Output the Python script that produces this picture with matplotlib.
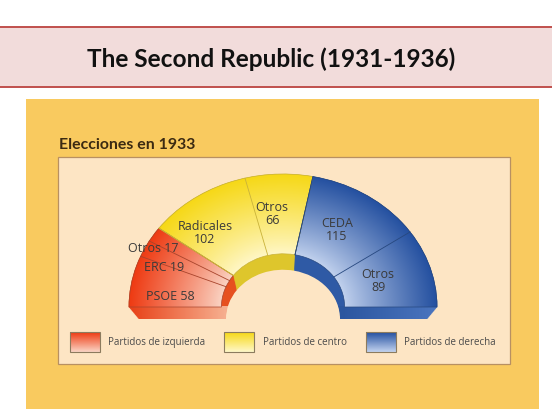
import numpy as np
import matplotlib
matplotlib.use("Agg")
import matplotlib.pyplot as plt
from matplotlib.patches import Rectangle, Wedge
from matplotlib.transforms import Affine2D
from matplotlib.colors import to_rgb

# ---------------- data ----------------
title = "The Second Republic (1931-1936)"
subtitle = "Elecciones en 1933"
parties = ["PSOE", "ERC", "Otros", "Radicales", "Otros", "CEDA", "Otros"]
seats = [58, 19, 17, 102, 66, 115, 89]
party_group = [0, 0, 0, 1, 1, 2, 2]
group_names = ["Partidos de izquierda", "Partidos de centro", "Partidos de derecha"]

# ---------------- style ----------------
grp_outer = ["#EE3A12", "#F6D816", "#2450A0"]
grp_inner = ["#FAD4C4", "#FFF7C8", "#C2D2EE"]
grp_side = ["#E6501F", "#DEC62C", "#2F5AA5"]
grp_bottom_outer = ["#E8431A", "#DEC62C", "#4A74BE"]
grp_bottom_inner = ["#F6AE8E", "#EAD870", "#2B569F"]
grp_line = ["#A8442C", "#C9B23A", "#27487F"]
label_text = ["PSOE 58", "ERC 19", "Otros 17", "Radicales\n102", "Otros\n66", "CEDA\n115", "Otros\n89"]
label_pos = [(170, 297), (164, 268), (153, 249), (205, 233), (272, 214), (337, 230), (378, 281)]

W, H = 552, 414
fig = plt.figure(figsize=(W / 100, H / 100), dpi=100)
fig.patch.set_facecolor("white")
ax = fig.add_axes([0, 0, 1, 1])
ax.set_xlim(0, W)
ax.set_ylim(H, 0)
ax.axis("off")

# banner
ax.add_patch(Rectangle((0, 28), W, 60, fc="#F2DCDB", ec="none", zorder=1))
for yy in (28, 88):
    ax.plot([0, W], [yy, yy], color="#C0504D", lw=1.4, zorder=2)
ax.text(271, 59, title, ha="center", va="center", fontsize=17.6, fontweight="bold",
        family="Lato", color="#111111", zorder=3)

# orange frame and cream panel
ax.add_patch(Rectangle((26, 100), 513, 310, fc="#F9CA5F", ec="none", zorder=1))
ax.text(59, 145, subtitle, ha="left", va="center", fontsize=11.4, fontweight="bold",
        family="Lato", color="#3B2A12", zorder=3)
ax.add_patch(Rectangle((58, 158), 452, 207, fc="#FDE5C4", ec="#B89062", lw=0.9, zorder=1))

# ---------------- hemicycle ----------------
cx, cy, RX, RY = 283, 308, 154, 133
ri = 0.4
depth, shrink = 12, 0.065
total = sum(seats)
angles = 180 - np.concatenate([[0], np.cumsum(seats)]) / total * 180

grp_ranges = []
for g in range(3):
    idx = [i for i, pg in enumerate(party_group) if pg == g]
    grp_ranges.append((angles[idx[-1] + 1], angles[idx[0]]))


def tr(t):
    s = 1 - shrink * t
    return Affine2D().scale(RX * s, -RY * s).translate(cx, cy + depth * t) + ax.transData


x0, x1, y0, y1 = 120, 450, 165, 330
xs = np.arange(x0, x1) + 0.5
ys = np.arange(y0, y1) + 0.5
XX, YY = np.meshgrid(xs, ys)
rr = np.hypot((XX - cx) / RX, (cy - YY) / RY)
tt = np.clip((rr - ri) / (1 - ri), 0, 1)
dx = np.clip((np.abs(XX - cx) - RX * ri * 0.95) / (RX * (1 - ri)), 0, 1)

# extrusion (walls + bottom face)
side_imgs = []
for g in range(3):
    cs = np.array(to_rgb(grp_side[g]))
    bo, bi = np.array(to_rgb(grp_bottom_outer[g])), np.array(to_rgb(grp_bottom_inner[g]))
    k = dx[..., None]
    bottom = bi * (1 - k) + bo * k
    img = np.where((YY > cy - 1)[..., None], bottom, cs[None, None, :])
    side_imgs.append(img)

for t in np.linspace(1, 0.02, 16):
    T = tr(t)
    for g, (a2, a1) in enumerate(grp_ranges):
        w = Wedge((0, 0), 1.004, a2, a1, width=1.004 - ri * 0.99, fc="none", ec="none",
                  transform=T, zorder=4)
        ax.add_patch(w)
        im = ax.imshow(side_imgs[g], extent=(x0, x1, y1, y0), origin="upper",
                       interpolation="nearest", zorder=4, aspect="auto")
        im.set_clip_path(w)

# front faces with radial gradient
Tf = tr(0)
for g, (a2, a1) in enumerate(grp_ranges):
    w = Wedge((0, 0), 1, a2, a1, width=1 - ri, fc="none", ec="none", transform=Tf, zorder=5)
    ax.add_patch(w)
    ci, co = np.array(to_rgb(grp_inner[g])), np.array(to_rgb(grp_outer[g]))
    k = tt[..., None] ** 0.9
    img = ci * (1 - k) + co * k
    im = ax.imshow(img, extent=(x0, x1, y1, y0), origin="upper", interpolation="bilinear",
                   zorder=5, aspect="auto")
    im.set_clip_path(w)
    ax.add_patch(Wedge((0, 0), 1, a2, a1, width=1 - ri, fc="none", ec=grp_line[g], lw=0.5,
                       transform=Tf, zorder=6))

# boundaries between parties
for i in range(1, len(seats)):
    a = np.deg2rad(angles[i])
    g = party_group[i]
    ax.plot([ri * np.cos(a), np.cos(a)], [ri * np.sin(a), np.sin(a)], color=grp_line[g],
            lw=0.6, transform=Tf, zorder=6)

for i, txt in enumerate(label_text):
    ax.text(label_pos[i][0], label_pos[i][1], txt, ha="center", va="center", fontsize=9,
            family="Open Sans", color="#3A3A3A", linespacing=1.0, zorder=8)

# ---------------- legend ----------------
leg_box_x = [70, 224, 366]
leg_txt_x = [108, 263, 404]
by, bh, bw = 333, 20, 30
grad = np.linspace(0, 1, 40)[:, None, None]
for g in range(3):
    co, ci = np.array(to_rgb(grp_outer[g])), np.array(to_rgb(grp_inner[g]))
    img = co * (1 - grad) + ci * grad
    ax.imshow(img, extent=(leg_box_x[g], leg_box_x[g] + bw, by + bh, by), origin="upper",
              aspect="auto", zorder=5)
    ax.add_patch(Rectangle((leg_box_x[g], by), bw, bh, fc="none", ec="#8C7B5E", lw=0.8, zorder=6))
    ax.text(leg_txt_x[g], by + bh / 2, group_names[g], ha="left", va="center", fontsize=7,
            family="Open Sans", color="#4A4A4A", zorder=6)

ax.set_xlim(0, W)
ax.set_ylim(H, 0)
fig.savefig("out.png", dpi=100)
